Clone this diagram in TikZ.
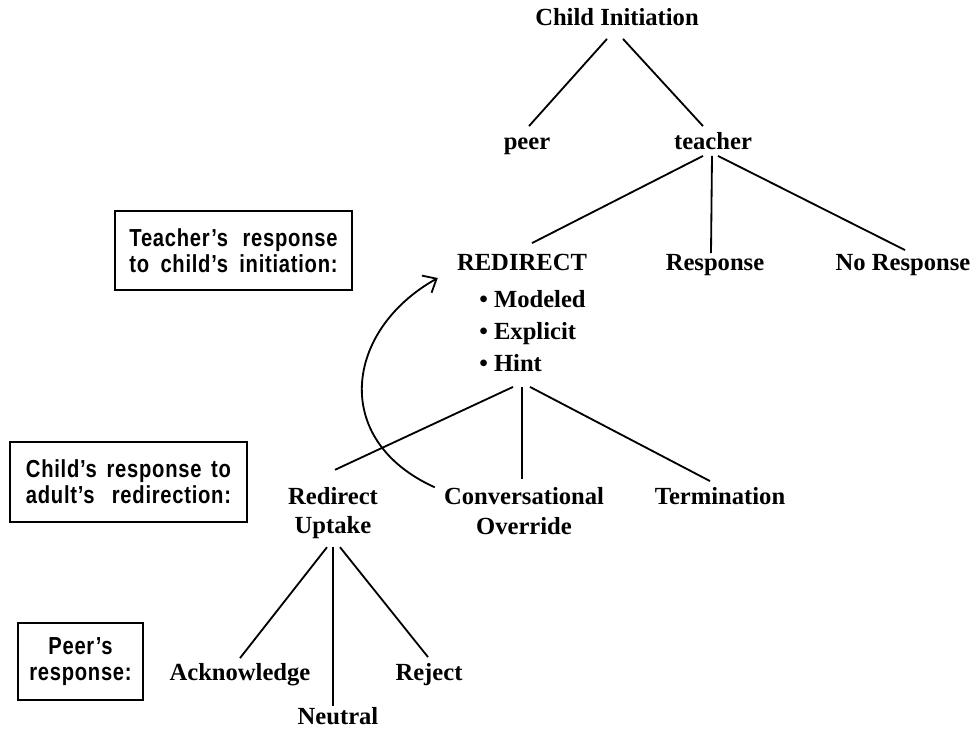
\documentclass[tikz,border=0pt]{standalone}
\usepackage{fontspec}
\setmainfont{Liberation Serif}
\newfontfamily\boxfont[FakeStretch=0.82,LetterSpace=3]{Liberation Sans}
\usetikzlibrary{positioning,calc,arrows.meta}

\tikzset{
	lab/.style={font=\bfseries\fontsize{17.5}{21}\selectfont, inner sep=0pt, text height=0.66em, text depth=0pt},
	stack/.style={font=\bfseries\fontsize{17.5}{21}\selectfont, inner sep=0pt, align=center},
	tag/.style={draw, line width=1pt, inner sep=0pt, align=center, font=\boxfont\bfseries\fontsize{17.5}{18.7}\selectfont},
	link/.style={line width=1.3pt},
}

\begin{document}
\begin{tikzpicture}[x=0.025cm,y=-0.025cm]
		\useasboundingbox (0,0) rectangle (980,731);
		%
		\node[lab] (ci) at (617,21) {Child Initiation};
		\node[lab] (peer) at (527,145) {peer};
		\node[lab] (teacher) at (713,145) {teacher};
		\node[lab] (redirect) at (522,266) {REDIRECT};
		\node[lab] (resp) at (715,266) {Response};
		\node[lab] (noresp) at (903,266) {No Response};
		\node[stack, align=left, anchor=west, font=\bfseries\fontsize{17.5}{22.8}\selectfont] (kinds) at (479,331) {\textbullet\ Modeled\\\textbullet\ Explicit\\\textbullet\ Hint};
		\coordinate (fork) at ($(redirect.south)+(0,116)$);
		\node[stack] (uptake) at (333,513) {Redirect\\Uptake};
		\node[stack] (override) at (524,511) {Conversational\\Override};
		\node[lab] (term) at (720,500) {Termination};
		\node[lab] (ack) at (240,676) {Acknowledge};
		\node[lab] (neutral) at (338,720) {Neutral};
		\node[lab] (reject) at (429,676) {Reject};
		%
		\node[tag, minimum width=5.925cm, minimum height=1.975cm] (tbox) at (233.5,250.5)
			{\makebox[5.2cm][s]{Teacher’s response}\\\makebox[5.2cm][s]{to child’s initiation:}};
		\node[tag, minimum width=5.925cm, minimum height=2cm] (cbox) at (128.5,482)
			{\makebox[5.125cm][s]{Child’s response to}\\\makebox[5.125cm][s]{adult’s redirection:}};
		\node[tag, minimum width=3.125cm, minimum height=1.925cm] (pbox) at (80.5,661.5)
			{Peer’s\\response:};
		%
		\draw[link] ($(ci.south)+(-10,13)$) -- ($(peer.north)+(2,-14)$);
		\draw[link] ($(ci.south)+(6,13)$) -- ($(teacher.north)+(-10,-14)$);
		\draw[link] ($(teacher.south)+(-10,6)$) -- ($(redirect.north)+(10,-18)$);
		\draw[link] ($(teacher.south)+(-1,6)$) -- ($(resp.north)+(-4,-8)$);
		\draw[link] ($(teacher.south)+(5,6)$) -- ($(noresp.north)+(2,-11)$);
		%
		\draw[link] ($(fork)+(-9,0)$) -- ($(uptake.north)+(2,-17)$);
		\draw[link] (fork) -- ($(override.north)+(-2,-8)$);
		\draw[link] ($(fork)+(8,0)$) -- ($(term.north)+(-10,-14)$);
		%
		\draw[link] ($(uptake.south)+(-6,8)$) -- ($(ack.north)+(0,-13)$);
		\draw[link] ($(uptake.south)+(0,8)$) -- ($(neutral.north)+(-5,-9)$);
		\draw[link] ($(uptake.south)+(7,8)$) -- ($(reject.north)+(-1,-14)$);
		%
		\draw[link, -{Straight Barb[length=8pt,width=14pt]}] ($(override.north west)+(-9,0)$)
			.. controls (330,440) and (345,330) .. ($(redirect.west)+(-19,12)$);
	\end{tikzpicture}
\end{document}
